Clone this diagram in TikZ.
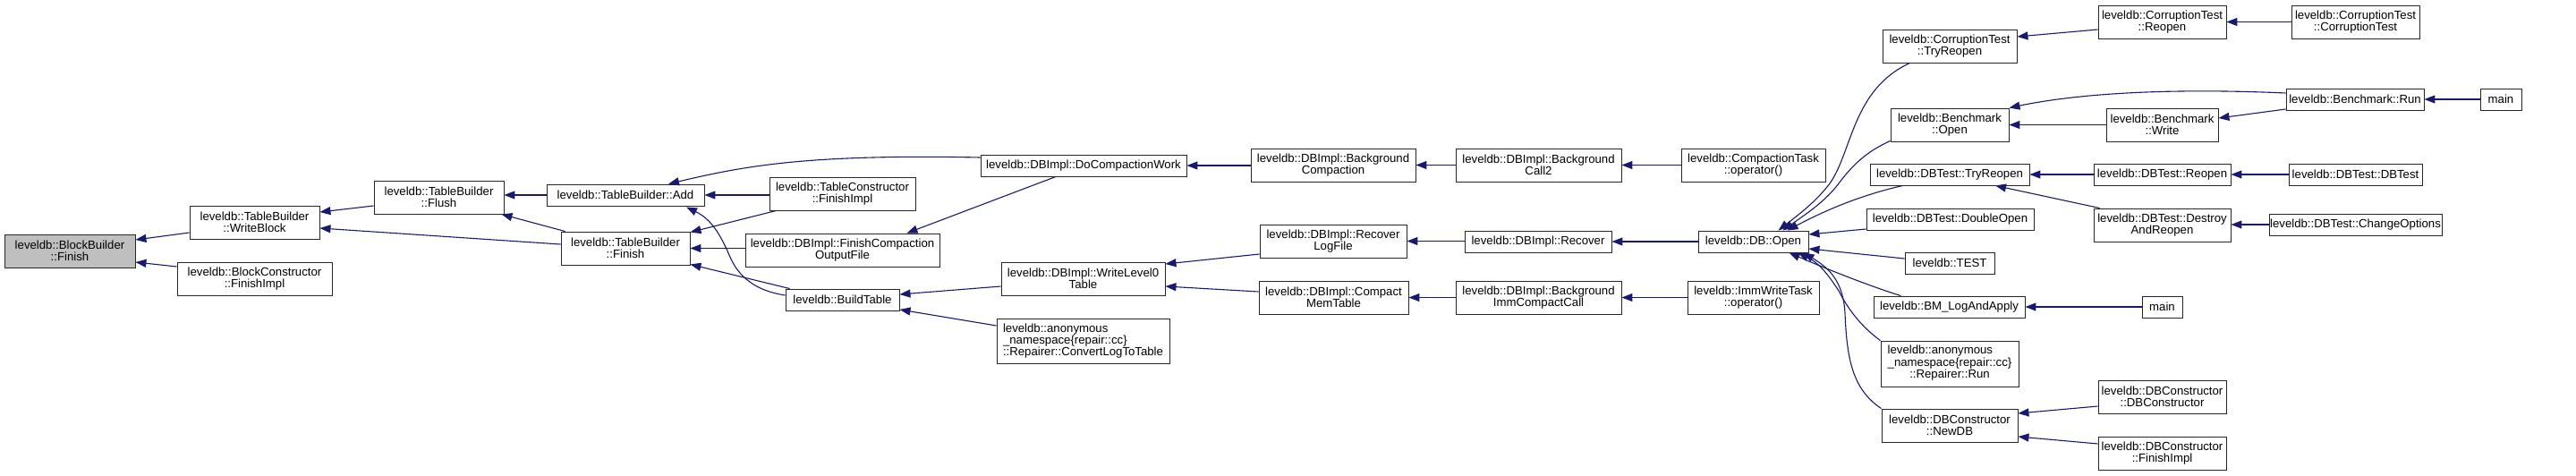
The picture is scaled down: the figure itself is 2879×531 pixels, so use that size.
\documentclass[tikz,border=0pt]{standalone}
\usepackage{fontspec}
\setmainfont{Liberation Sans}
\usetikzlibrary{arrows.meta}
\definecolor{edgec}{RGB}{25,25,112}
\definecolor{fillg}{RGB}{191,191,191}
\newcommand\fnbox[7][]{\node[fnode,#1,minimum width={#5pt-#3pt},minimum height={#6pt-#4pt}] (#2) at ({(#3+#5)/2},{(#4+#6)/2}) {#7};}
\begin{document}
\begin{tikzpicture}[x=1pt,y=-1pt,
  fnode/.style={draw=black!85,line width=0.9pt,fill=white,inner sep=0pt,align=center,font=\fontsize{13.2}{13}\selectfont},
  cedge/.style={draw=edgec,line width=1.1pt,{Triangle[length=12pt,width=9pt]}-}]
\useasboundingbox (0,0) rectangle (2879,531);
% nodes
\fnbox[fill=fillg]{bbf}{5}{262}{151}{299}{leveldb::BlockBuilder\\::Finish}
\fnbox{wb}{212}{230}{357}{267}{leveldb::TableBuilder\\::WriteBlock}
\fnbox{bcf}{198}{293}{371}{330}{leveldb::BlockConstructor\\::FinishImpl}
\fnbox{flush}{418}{202}{563}{239}{leveldb::TableBuilder\\::Flush}
\fnbox{add}{611}{206}{787}{230}{leveldb::TableBuilder::Add}
\fnbox{tbf}{627}{259}{771}{296}{leveldb::TableBuilder\\::Finish}
\fnbox{tcf}{860}{198}{1023}{235}{leveldb::TableConstructor\\::FinishImpl}
\fnbox{fcof}{833}{261}{1050}{298}{leveldb::DBImpl::FinishCompaction\\OutputFile}
\fnbox{bt}{878}{323}{1005}{347}{leveldb::BuildTable}
\fnbox{dcw}{1096}{173}{1326}{197}{leveldb::DBImpl::DoCompactionWork}
\fnbox{wl0}{1119}{293}{1302}{330}{leveldb::DBImpl::WriteLevel0\\Table}
\fnbox[align=left]{cltt}{1114}{356}{1307}{406}{leveldb::anonymous\\\_namespace\{repair::cc\}\\::Repairer::ConvertLogToTable}
\fnbox{bc}{1398}{166}{1582}{203}{leveldb::DBImpl::Background\\Compaction}
\fnbox{bc2}{1627}{166}{1812}{203}{leveldb::DBImpl::Background\\Call2}
\fnbox{ctop}{1879}{166}{2040}{203}{leveldb::CompactionTask\\::operator()}
\fnbox{rlf}{1408}{251}{1572}{288}{leveldb::DBImpl::Recover\\LogFile}
\fnbox{rec}{1637}{258}{1801}{282}{leveldb::DBImpl::Recover}
\fnbox{cmt}{1407}{314}{1574}{351}{leveldb::DBImpl::Compact\\MemTable}
\fnbox{bicc}{1627}{314}{1812}{351}{leveldb::DBImpl::Background\\ImmCompactCall}
\fnbox{iwt}{1886}{314}{2033}{351}{leveldb::ImmWriteTask\\::operator()}
\fnbox{open}{1898}{258}{2021}{282}{leveldb::DB::Open}
\fnbox{cttr}{2104}{33}{2254}{70}{leveldb::CorruptionTest\\::TryReopen}
\fnbox{bmo}{2113}{121}{2245}{158}{leveldb::Benchmark\\::Open}
\fnbox{dbttr}{2090}{183}{2268}{207}{leveldb::DBTest::TryReopen}
\fnbox{dbl}{2086}{233}{2273}{257}{leveldb::DBTest::DoubleOpen}
\fnbox{test}{2129}{282}{2229}{306}{leveldb::TEST}
\fnbox{bmla}{2094}{331}{2263}{355}{leveldb::BM\_LogAndApply}
\fnbox{rrun}{2102}{381}{2256}{432}{\begin{tabular}{@{}l@{}}leveldb::anonymous\\\_namespace\{repair::cc\}\\\multicolumn{1}{@{}c@{}}{::Repairer::Run}\end{tabular}}
\fnbox{newdb}{2103}{457}{2255}{494}{leveldb::DBConstructor\\::NewDB}
\fnbox{ctr}{2345}{6}{2488}{43}{leveldb::CorruptionTest\\::Reopen}
\fnbox{ctct}{2561}{6}{2704}{43}{leveldb::CorruptionTest\\::CorruptionTest}
\fnbox{bmrun}{2555}{99}{2709}{123}{leveldb::Benchmark::Run}
\fnbox{mainA}{2772}{99}{2818}{123}{main}
\fnbox{bmw}{2354}{121}{2479}{158}{leveldb::Benchmark\\::Write}
\fnbox{dbtro}{2340}{183}{2493}{207}{leveldb::DBTest::Reopen}
\fnbox{dbtdb}{2558}{183}{2707}{207}{leveldb::DBTest::DBTest}
\fnbox{dar}{2340}{233}{2493}{270}{leveldb::DBTest::Destroy\\AndReopen}
\fnbox{chop}{2536}{239}{2729}{263}{leveldb::DBTest::ChangeOptions}
\fnbox{mainB}{2394}{331}{2439}{355}{main}
\fnbox{dbcdbc}{2345}{425}{2488}{462}{leveldb::DBConstructor\\::DBConstructor}
\fnbox{dbcfi}{2345}{488}{2488}{525}{leveldb::DBConstructor\\::FinishImpl}
% edges (arrow tip at callee)
\draw[cedge] ([shift={(0,-12.5)}]bbf.east) -- ([shift={(0,11.5)}]wb.west);
\draw[cedge] ([shift={(0,12.5)}]bbf.east) -- ([shift={(0,-13.5)}]bcf.west);
\draw[cedge] ([shift={(0,-11.5)}]wb.east) -- ([shift={(0,9.5)}]flush.west);
\draw[cedge] ([shift={(0,6.5)}]wb.east) -- ([shift={(0,-4.5)}]tbf.west);
\draw[cedge] (add.west -| flush.east) -- (add.west);
\draw[cedge] ([shift={(-3,0)}]flush.south east) -- ([shift={(5,0)}]tbf.north west);
\draw[cedge] ([shift={(48,0)}]add.north) .. controls (830,186) and (900,172) .. ([shift={(0,-9)}]dcw.west);
\draw[cedge] (add.east) -- (add.east -| tcf.west);
\draw[cedge] ([shift={(68,1)}]add.south) .. controls (795,245) and (805,262) .. (815,285) .. controls (825,310) and (845,325) .. ([shift={(0,-5)}]bt.west);
\draw[cedge] ([shift={(0,1)}]tbf.north east) -- ([shift={(8,0)}]tcf.south west);
\draw[cedge] (tbf.east) -- (tbf.east -| fcof.west);
\draw[cedge] ([shift={(0,-1)}]tbf.south east) -- ([shift={(5,0)}]bt.north west);
\draw[cedge] ([shift={(72,0)}]fcof.north) -- ([shift={(-31,0)}]dcw.south);
\draw[cedge] (dcw.east) -- (dcw.east -| bc.west);
\draw[cedge] (bc.east) -- (bc.east -| bc2.west);
\draw[cedge] (bc2.east) -- (bc2.east -| ctop.west);
\draw[cedge] ([shift={(0,-6)}]bt.east) -- ([shift={(0,8.5)}]wl0.west);
\draw[cedge] ([shift={(0,11)}]bt.east) -- ([shift={(0,-17)}]cltt.west);
\draw[cedge] ([shift={(0,-16.5)}]wl0.east) -- ([shift={(0,14.5)}]rlf.west);
\draw[cedge] ([shift={(0,8.5)}]wl0.east) -- ([shift={(0,-6.5)}]cmt.west);
\draw[cedge] (rlf.east) -- (rlf.east -| rec.west);
\draw[cedge] (rec.east) -- (rec.east -| open.west);
\draw[cedge] (cmt.east) -- (cmt.east -| bicc.west);
\draw[cedge] (bicc.east) -- (bicc.east -| iwt.west);
\draw[cedge] ([shift={(28,0)}]open.north) .. controls (2010,240) and (2030,225) .. (2045,205) .. controls (2070,170) and (2070,100) .. ([shift={(31,0)}]cttr.south west);
\draw[cedge] ([shift={(33,0)}]open.north) .. controls (2020,238) and (2040,225) .. (2055,205) .. controls (2070,185) and (2085,170) .. ([shift={(0,-1)}]bmo.south west);
\draw[cedge] ([shift={(38,0)}]open.north) .. controls (2040,235) and (2080,218) .. ([shift={(37,0)}]dbttr.south west);
\draw[cedge] ([shift={(0,-8)}]open.east) -- ([shift={(0,11)}]dbl.west);
\draw[cedge] ([shift={(0,8)}]open.east) -- ([shift={(0,-5)}]test.west);
\draw[cedge] ([shift={(40,0)}]open.south) .. controls (2040,300) and (2090,320) .. ([shift={(-54,0)}]bmla.north);
\draw[cedge] ([shift={(50,0)}]open.south) .. controls (2035,295) and (2045,310) .. (2055,325) .. controls (2065,345) and (2080,365) .. (rrun.north west);
\draw[cedge] ([shift={(56,0)}]open.south) .. controls (2045,300) and (2060,315) .. (2062,350) .. controls (2064,400) and (2070,435) .. (newdb.north west);
\draw[cedge] ([shift={(0,-10.5)}]cttr.east) -- ([shift={(0,8.5)}]ctr.west);
\draw[cedge] (ctr.east) -- (ctr.east -| ctct.west);
\draw[cedge] (bmo.north east) .. controls (2320,105) and (2420,98) .. ([shift={(0,-7)}]bmrun.west);
\draw[cedge] (bmo.east) -- (bmo.east -| bmw.west);
\draw[cedge] ([shift={(0,-7.5)}]bmw.east) -- ([shift={(0,11)}]bmrun.west);
\draw[cedge] (bmrun.east) -- (bmrun.east -| mainA.west);
\draw[cedge] (dbttr.east) -- (dbttr.east -| dbtro.west);
\draw[cedge] ([shift={(51,0)}]dbttr.south) -- ([shift={(7,0)}]dar.north west);
\draw[cedge] (dbtro.east) -- (dbtro.east -| dbtdb.west);
\draw[cedge] (dar.east |- chop.west) -- (chop.west);
\draw[cedge] (bmla.east) -- (bmla.east -| mainB.west);
\draw[cedge] ([shift={(0,-13.5)}]newdb.east) -- ([shift={(0,10.5)}]dbcdbc.west);
\draw[cedge] ([shift={(0,12.5)}]newdb.east) -- ([shift={(0,-10.5)}]dbcfi.west);
\end{tikzpicture}
\end{document}
